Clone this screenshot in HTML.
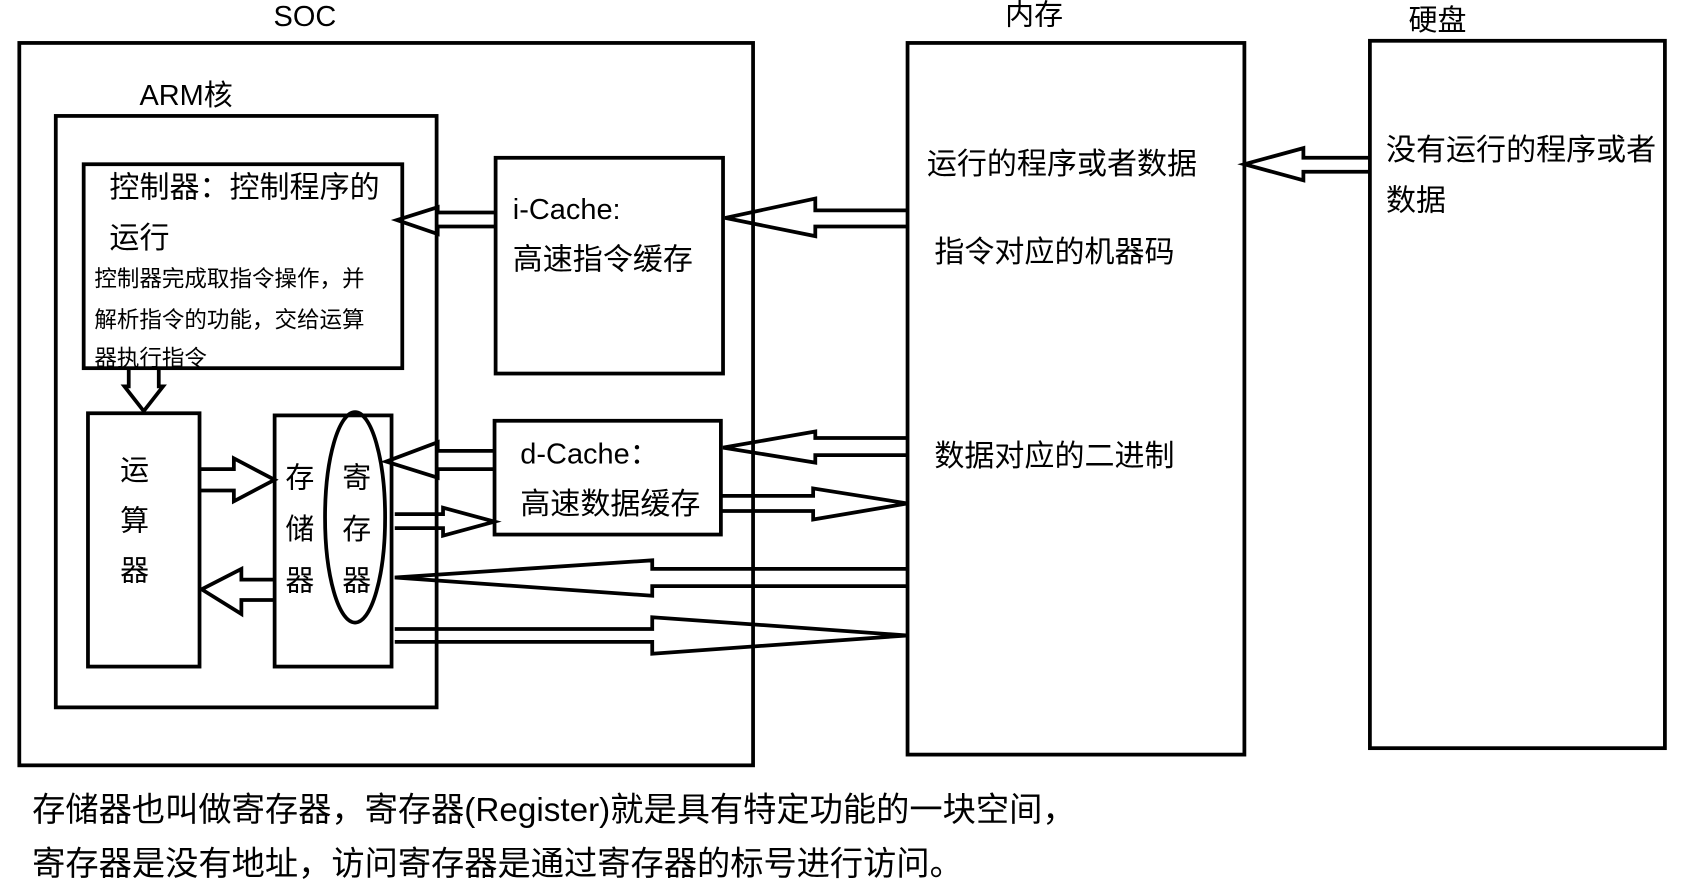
<!DOCTYPE html>
<html><head><meta charset="utf-8"><style>
html,body{margin:0;padding:0;background:#fff;}
svg{display:block;}
text{font-family:"Liberation Sans","Noto Sans CJK SC",sans-serif;fill:#000;}
</style></head><body>
<svg width="1681" height="892" viewBox="0 0 1567 831" preserveAspectRatio="none" xmlns="http://www.w3.org/2000/svg">
<g fill="none" stroke="#000" stroke-width="3.5">
<rect x="18" y="40" width="684" height="673"/>
<rect x="52" y="108" width="355" height="551"/>
<rect x="78" y="153" width="297" height="190"/>
<rect x="462" y="147" width="212" height="201"/>
<rect x="461" y="392" width="211" height="106"/>
<rect x="82" y="385" width="104" height="236"/>
<rect x="256" y="387" width="109" height="234"/>
<ellipse cx="331" cy="482" rx="28" ry="98"/>
<rect x="846" y="40" width="314" height="663"/>
<rect x="1277" y="38" width="275" height="659"/>
<polyline points="1277,147 1215,147 1215,138 1160,153 1215,168 1215,160 1277,160"/>
<polyline points="846,196 760,196 760,185 676,203 760,220 760,211 846,211"/>
<polyline points="462,198 408,198 408,193 370,205 408,218 408,211 462,211"/>
<polyline points="120,343 120,360 116,360 134,383 152,360 148,360 148,343"/>
<polyline points="186,437 218,437 218,427 256,447 218,467 218,457 186,457"/>
<polyline points="256,540 225,540 225,530 188,549 225,572 225,559 256,559"/>
<polyline points="461,420 408,420 408,412 360,430 408,445 408,437 461,437"/>
<polyline points="368,479 413,479 413,473 461,486 413,499 413,492 368,492"/>
<polyline points="846,408 760,408 760,402 674,417 760,431 760,424 846,424"/>
<polyline points="672,462 758,462 758,455 846,469 758,484 758,476 672,476"/>
<polyline points="846,530 608,530 608,522 368,538 608,555 608,546 846,546"/>
<polyline points="368,586 608,586 608,575 846,592 608,609 608,598 368,598"/>
</g>
<g font-size="27">
<text x="255" y="24">SOC</text>
<text x="937" y="23">内存</text>
<text x="1313" y="28">硬盘</text>
<text x="130" y="98">ARM核</text>
<text x="102" y="184" font-size="28">控制器：控制程序的</text>
<text x="102" y="231" font-size="28">运行</text>
<text x="478" y="204">i-Cache:</text>
<text x="478" y="251" font-size="28">高速指令缓存</text>
<text x="485" y="432">d-Cache：</text>
<text x="485" y="479" font-size="28">高速数据缓存</text>
<text x="112" y="447">运</text>
<text x="112" y="494">算</text>
<text x="112" y="541">器</text>
<text x="266" y="454">存</text>
<text x="266" y="502">储</text>
<text x="266" y="550">器</text>
<text x="319" y="454">寄</text>
<text x="319" y="502">存</text>
<text x="319" y="550">器</text>
<text x="864" y="162" font-size="28">运行的程序或者数据</text>
<text x="871" y="244" font-size="28">指令对应的机器码</text>
<text x="871" y="434" font-size="28">数据对应的二进制</text>
<text x="1292" y="149" font-size="28">没有运行的程序或者</text>
<text x="1292" y="196" font-size="28">数据</text>
</g>
<g font-size="21">
<text x="88" y="267">控制器完成取指令操作，并</text>
<text x="88" y="305">解析指令的功能，交给运算</text>
<text x="88" y="341">器执行指令</text>
</g>
<g font-size="31">
<text x="30" y="765">存储器也叫做寄存器，寄存器(Register)就是具有特定功能的一块空间，</text>
<text x="30" y="815">寄存器是没有地址，访问寄存器是通过寄存器的标号进行访问。</text>
</g>
</svg>
</body></html>
